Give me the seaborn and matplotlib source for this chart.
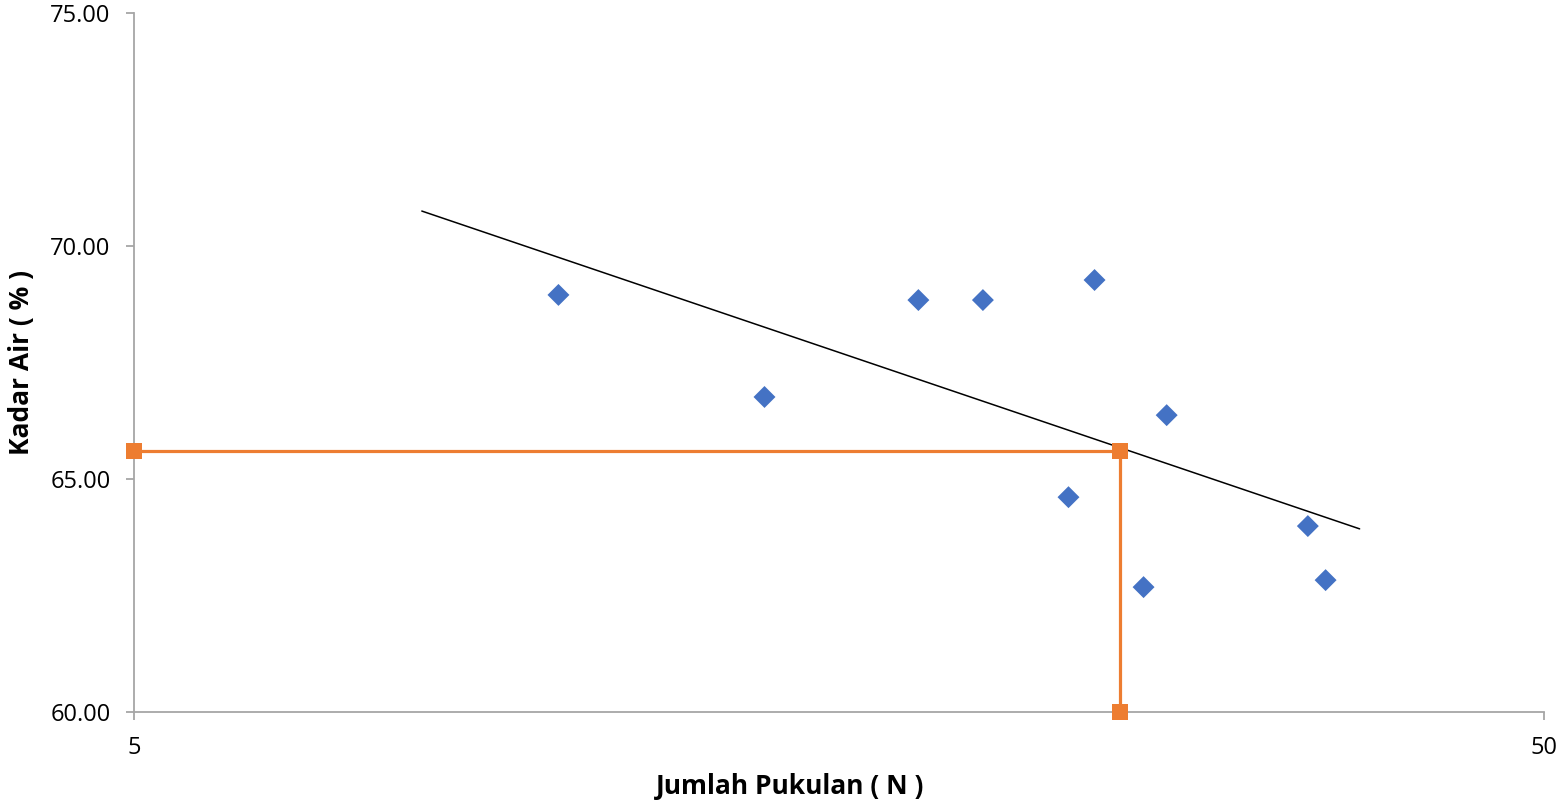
import matplotlib
matplotlib.use("Agg")
import matplotlib.pyplot as plt
import matplotlib.ticker as mticker
import seaborn as sns
import pandas as pd

# Data
blows = [10, 14, 18, 20, 23, 24, 26, 27, 34, 35]
water_content = [68.95, 66.76, 68.84, 68.84, 64.61, 69.27, 62.68, 66.37, 63.99, 62.83]

trend_x = [8, 37]
trend_y = [70.75, 63.93]

guide_x = [5, 25, 25]
guide_y = [65.60, 65.60, 60.00]

x_ticks = [5, 50]
y_ticks = [60, 65, 70, 75]

sns.set_theme(style="white")
plt.rcParams['font.family'] = ['Open Sans', 'DejaVu Sans']
plt.rcParams['text.color'] = 'black'
plt.rcParams['axes.labelcolor'] = 'black'

fig = plt.figure(figsize=(15.63, 8.10), dpi=100)
ax = fig.add_axes([134/1563, 1-712/810, (1544-134)/1563, (712-13)/810])

pts = pd.DataFrame({"N": blows, "w": water_content})
trend = pd.DataFrame({"N": trend_x, "w": trend_y})
guide = pd.DataFrame({"N": guide_x, "w": guide_y})

sns.lineplot(data=trend, x="N", y="w", color="black", linewidth=1.1, ax=ax,
             sort=False, estimator=None)
sns.lineplot(data=guide, x="N", y="w", color="#ED7D31", linewidth=2.3, marker="s",
             markersize=11, markeredgewidth=0, ax=ax, sort=False, estimator=None,
             clip_on=False, zorder=3)
sns.scatterplot(data=pts, x="N", y="w", marker="D", s=125, color="#4472C4",
                edgecolor="none", ax=ax, zorder=4, clip_on=False)

ax.set_xscale("log")
ax.set_xlim(5, 50)
ax.set_ylim(60, 75)
ax.xaxis.set_major_locator(mticker.FixedLocator(x_ticks))
ax.xaxis.set_minor_locator(mticker.NullLocator())
ax.xaxis.set_major_formatter(mticker.FixedFormatter([str(t) for t in x_ticks]))
ax.set_yticks(y_ticks)
ax.yaxis.set_major_formatter(mticker.FormatStrFormatter("%.2f"))

for side in ["top", "right"]:
    ax.spines[side].set_visible(False)
for side in ["left", "bottom"]:
    ax.spines[side].set_color("#a6a6a6")
    ax.spines[side].set_linewidth(1.3)

ax.tick_params(axis="both", which="major", direction="out", length=6, width=1.3,
               color="#a6a6a6", labelsize=17, labelcolor="black", pad=11,
               left=True, bottom=True)

ax.set_xlabel("Jumlah Pukulan ( N )", fontsize=19, fontweight="bold")
ax.set_ylabel("Kadar Air ( % )", fontsize=19, fontweight="bold")
ax.xaxis.set_label_coords((790 - 134) / 1410, -(787 - 712) / 699, transform=ax.transAxes)
ax.yaxis.set_label_coords(-(134 - 22) / 1410, 0.5, transform=ax.transAxes)
ax.xaxis.label.set_va("center")
ax.yaxis.label.set_va("center")
ax.grid(False)

fig.savefig("out.png", dpi=100)
